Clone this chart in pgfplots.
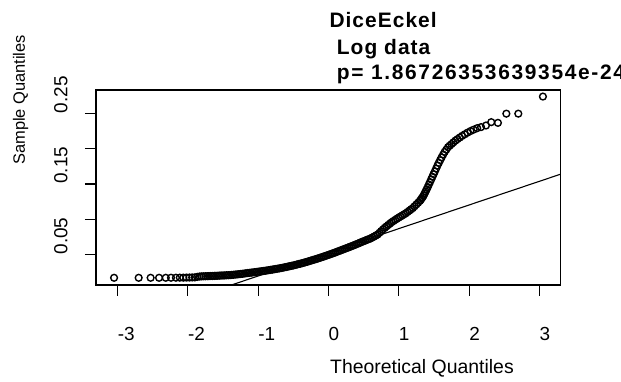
\documentclass[border=0pt]{standalone}
\usepackage{fontspec}
\setmainfont{Liberation Sans}
\newfontfamily\titlefont{Liberation Sans}[LetterSpace=5]
\newfontfamily\pfont{Liberation Sans}[LetterSpace=8]
\usepackage{pgfplots}
\pgfplotsset{compat=1.18}
\begin{document}
\begin{tikzpicture}
\useasboundingbox (0,0) rectangle (621bp,382bp);
\begin{axis}[
  at={(96bp,97bp)}, anchor=south west,
  scale only axis, width=464.7bp, height=195bp,
  xmin=-3.307, xmax=3.303, ymin=0.007, ymax=0.283,
  axis line style={line width=1.1bp},
  tick align=outside, xtick pos=bottom, ytick pos=left,
  major tick length=11bp,
  major tick style={line width=1.1bp, black},
  xtick={-3,-2,-1,0,1,2,3},
  xticklabels={-3,-2,-1,0,1,2,3},
  ytick={0.05,0.10,0.15,0.20,0.25},
  yticklabels={0.05,{},0.15,{},0.25},
  ticklabel style={font=\fontsize{19}{21}\selectfont},
  xticklabel style={anchor=base west, inner sep=0pt},
  xticklabel shift=44.3bp,
  yticklabel style={rotate=90, anchor=base west, inner sep=0pt},
  yticklabel shift=17.7bp,
  xlabel={Theoretical Quantiles},
  xlabel style={at={(axis description cs:0,0)}, anchor=base west, inner sep=0pt, xshift=234bp, yshift=-88.3bp, font=\fontsize{19.5}{21}\selectfont},
  ylabel={Sample Quantiles},
  ylabel style={at={(axis description cs:-0.1528,0.6154)}, anchor=base west, inner sep=0pt, font=\fontsize{16.5}{18}\selectfont},
]
\addplot[only marks, mark=o, mark size=3.4bp, mark options={line width=1.4bp, black}] coordinates {
(-3.050,0.0172) (-2.700,0.0172) (-2.530,0.0172) (-2.410,0.0172) (-2.315,0.0172)
(-2.240,0.0173) (-2.170,0.0173) (-2.115,0.0174) (-2.065,0.0174) (-2.020,0.0175)
(-1.977,0.0176) (-1.938,0.0177) (-1.900,0.0178) (-1.867,0.0185) (-1.835,0.0190)
(-1.806,0.0192) (-1.777,0.0193) (-1.750,0.0194) (-1.724,0.0195) (-1.700,0.0196)
(-1.675,0.0197) (-1.650,0.0198) (-1.625,0.0199) (-1.600,0.0200) (-1.575,0.0201)
(-1.550,0.0203) (-1.525,0.0204) (-1.500,0.0205) (-1.475,0.0206) (-1.450,0.0208)
(-1.425,0.0209) (-1.400,0.0210) (-1.375,0.0213) (-1.350,0.0215) (-1.325,0.0218)
(-1.300,0.0220) (-1.275,0.0223) (-1.250,0.0226) (-1.225,0.0229) (-1.200,0.0232)
(-1.175,0.0235) (-1.150,0.0239) (-1.125,0.0242) (-1.100,0.0245) (-1.075,0.0248)
(-1.050,0.0252) (-1.025,0.0255) (-1.000,0.0258) (-0.975,0.0262) (-0.950,0.0265)
(-0.925,0.0269) (-0.900,0.0272) (-0.875,0.0276) (-0.850,0.0280) (-0.825,0.0284)
(-0.800,0.0288) (-0.775,0.0292) (-0.750,0.0297) (-0.725,0.0301) (-0.700,0.0305)
(-0.675,0.0310) (-0.650,0.0315) (-0.625,0.0320) (-0.600,0.0325) (-0.575,0.0331)
(-0.550,0.0336) (-0.525,0.0342) (-0.500,0.0347) (-0.475,0.0353) (-0.450,0.0360)
(-0.425,0.0366) (-0.400,0.0372) (-0.375,0.0379) (-0.350,0.0386) (-0.325,0.0393)
(-0.300,0.0400) (-0.275,0.0408) (-0.250,0.0415) (-0.225,0.0423) (-0.200,0.0430)
(-0.175,0.0438) (-0.150,0.0446) (-0.125,0.0454) (-0.100,0.0462) (-0.075,0.0471)
(-0.050,0.0479) (-0.025,0.0488) (0.000,0.0496) (0.025,0.0505) (0.050,0.0514)
(0.075,0.0523) (0.100,0.0532) (0.125,0.0542) (0.150,0.0551) (0.175,0.0561)
(0.200,0.0570) (0.225,0.0580) (0.250,0.0589) (0.275,0.0599) (0.300,0.0608)
(0.325,0.0618) (0.350,0.0628) (0.375,0.0638) (0.400,0.0648) (0.425,0.0659)
(0.450,0.0669) (0.475,0.0680) (0.500,0.0690) (0.525,0.0700) (0.550,0.0710)
(0.575,0.0720) (0.600,0.0730) (0.625,0.0744) (0.650,0.0757) (0.675,0.0771)
(0.700,0.0785) (0.725,0.0809) (0.750,0.0833) (0.775,0.0856) (0.800,0.0880)
(0.825,0.0900) (0.850,0.0920) (0.875,0.0940) (0.900,0.0960) (0.925,0.0976)
(0.950,0.0993) (0.975,0.1009) (1.000,0.1025) (1.025,0.1040) (1.050,0.1055)
(1.075,0.1070) (1.100,0.1085) (1.125,0.1104) (1.150,0.1123) (1.175,0.1141)
(1.200,0.1160) (1.225,0.1185) (1.250,0.1210) (1.275,0.1235) (1.300,0.1260)
(1.311,0.1275) (1.325,0.1295) (1.338,0.1313) (1.353,0.1336) (1.367,0.1364)
(1.382,0.1394) (1.397,0.1424) (1.412,0.1456) (1.428,0.1492) (1.444,0.1527)
(1.461,0.1564) (1.478,0.1602) (1.495,0.1639) (1.512,0.1676) (1.531,0.1718)
(1.550,0.1760) (1.569,0.1798) (1.589,0.1838) (1.609,0.1876) (1.631,0.1916)
(1.653,0.1954) (1.676,0.1986) (1.700,0.2020) (1.724,0.2042) (1.750,0.2065)
(1.777,0.2089) (1.806,0.2114) (1.835,0.2135) (1.867,0.2157) (1.900,0.2180)
(1.938,0.2203) (1.977,0.2226) (2.020,0.2249) (2.065,0.2269) (2.115,0.2290)
(2.170,0.2305) (2.240,0.2327) (2.315,0.2375) (2.410,0.2365) (2.530,0.2495)
(2.700,0.2495) (3.050,0.2737)
};
\addplot[black, line width=1.1bp] coordinates {(-3.307,-0.0575) (3.303,0.1639)};
\end{axis}
\node[anchor=base west, inner sep=0pt, font=\titlefont\bfseries\fontsize{21}{23}\selectfont] at (329.3bp,354.7bp) {DiceEckel};
\node[anchor=base west, inner sep=0pt, font=\titlefont\bfseries\fontsize{21}{23}\selectfont] at (336.7bp,327bp) {Log data};
\node[anchor=base west, inner sep=0pt, font=\pfont\bfseries\fontsize{21}{23}\selectfont] at (336.7bp,302bp) {p= 1.86726353639354e-24};
\end{tikzpicture}
\end{document}
